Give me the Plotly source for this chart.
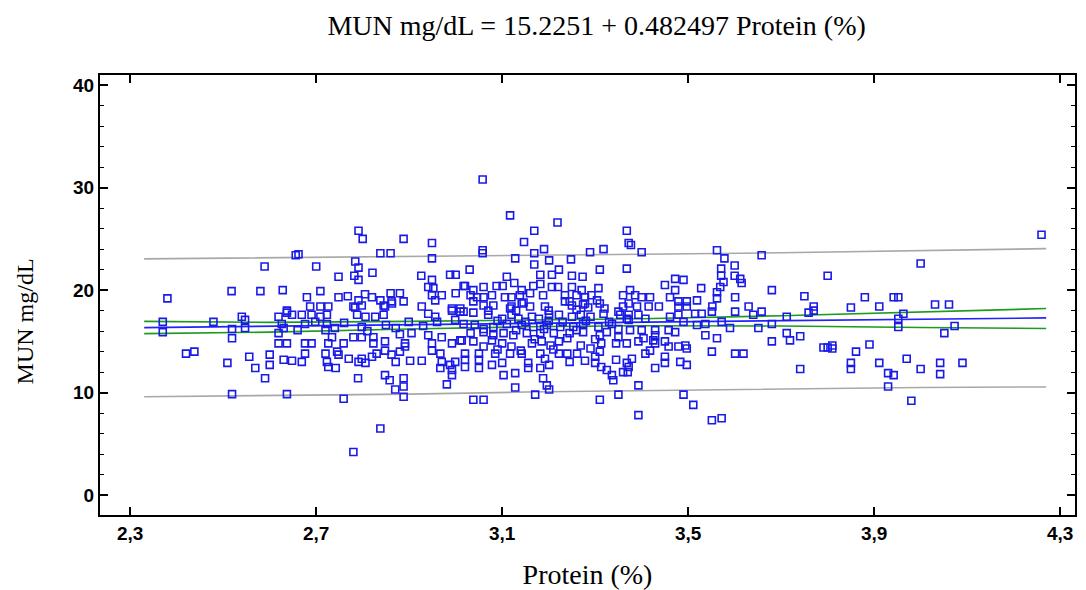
import plotly.graph_objects as go

# Scatter data (Protein %, MUN mg/dL)
protein = [
 2.656,2.589,2.518,2.58,2.628,2.38,2.637,
 2.37,2.37,2.479,2.54,2.547,2.547,2.519,2.519,2.619,2.637,2.648,2.626,2.63,2.619,2.619,2.637,2.42,2.438,2.509,2.556,2.569,2.60,2.60,2.59,2.63,2.648,2.519,2.637,
 2.791,2.80,2.888,2.949,2.662,2.838,2.86,2.949,2.70,2.784,2.791,2.821,2.748,2.782,2.791,2.926,2.949,2.988,3.0,2.709,2.941,2.952,3.017,3.0,2.68,2.748,2.768,2.805,2.82,2.86,2.88,2.791,2.838,2.862,2.888,2.949,2.956,2.97,2.687,2.709,2.726,2.78,2.798,2.848,2.927,2.992,3.01,
 2.669,2.69,2.709,2.723,2.676,2.698,2.723,2.784,2.788,2.806,2.827,2.845,2.863,2.845,2.941,2.956,2.992,3.01,2.999,2.899,2.871,2.798,2.78,2.798,2.823,2.823,2.848,2.676,2.69,2.726,2.759,2.734,2.72,2.891,2.905,2.941,2.949,2.97,2.992,3.01,2.949,2.967,2.676,2.72,2.745,2.748,2.77,2.798,2.82,2.83,2.848,2.862,2.88,2.891,2.669,2.723,2.726,2.742,2.791,2.806,2.871,2.902,2.927,2.97,2.988,2.999,2.967,2.992,2.992,2.79,2.848,2.858,2.888,2.888,2.87,2.981,2.888,2.759,2.838,2.78,
 2.76,2.85,2.93,2.96,2.66,2.74,2.81,2.88,
 3.058,3.117,3.219,3.169,3.368,3.147,3.058,3.058,3.169,3.19,3.289,3.318,3.372,3.128,3.201,3.248,3.03,3.169,3.182,3.207,3.222,3.25,3.273,3.31,3.368,3.11,3.126,3.02,3.038,3.06,3.088,3.101,3.142,3.167,3.182,3.207,3.22,3.25,3.271,3.307,3.032,3.046,3.06,3.078,3.106,3.12,3.138,3.16,3.188,3.235,3.26,3.278,3.292,3.304,3.36,3.038,3.06,3.081,3.12,3.142,3.16,3.192,3.235,3.25,3.278,3.31,3.36,
 3.117,3.146,3.245,3.274,3.285,3.017,3.038,3.07,3.1,3.12,3.135,3.164,3.179,3.201,3.222,3.25,3.269,3.29,3.318,3.354,3.368,3.017,3.041,3.081,3.11,3.142,3.167,3.196,3.225,3.253,3.274,3.307,3.336,3.032,3.06,3.081,3.103,3.124,3.153,3.182,3.211,3.245,3.274,3.31,3.325,3.013,3.038,3.06,3.078,3.1,3.12,3.164,3.185,3.204,3.222,3.269,3.29,3.313,3.345,3.368,3.02,3.05,3.085,3.117,3.142,3.182,3.222,3.24,3.261,3.31,3.02,3.05,3.078,3.1,3.156,3.192,3.245,3.278,3.3,3.345,3.368,3.02,3.05,3.156,3.182,3.201,3.313,3.325,3.36,3.336,3.103,3.128,3.188,3.339,3.196,3.128,3.201,3.171,3.35,3.038,3.06,3.31,
 3.09,3.15,3.2,3.23,3.28,3.33,3.06,3.13,3.19,3.26,3.35,3.09,3.14,3.21,3.3,3.17,3.24,3.3,3.35,3.07,3.13,3.2,3.26,3.32,3.35,
 3.377,3.4,3.562,3.658,3.578,3.6,3.571,3.472,3.49,3.571,3.6,3.612,3.45,3.528,3.576,3.615,3.472,3.569,3.68,3.375,3.386,3.4,3.418,3.461,3.562,3.562,3.601,3.519,3.479,3.497,3.479,3.497,3.39,3.415,3.437,3.552,3.63,
 3.372,3.372,3.393,3.408,3.461,3.479,3.515,3.529,3.551,3.601,3.64,3.658,3.372,3.49,3.519,3.537,3.572,3.59,3.651,3.68,3.712,3.375,3.4,3.429,3.458,3.472,3.429,3.404,3.425,3.537,3.562,3.45,3.393,3.429,3.458,3.479,3.494,3.497,3.68,3.712,3.719,3.408,3.418,3.551,3.601,3.619,3.379,3.45,3.45,3.483,3.497,3.372,3.429,3.37,3.393,3.49,3.511,3.393,3.551,3.572,
 4.26,4.0,3.80,3.75,3.88,3.942,3.952,3.77,3.85,3.911,4.031,4.061,3.77,3.759,3.963,3.952,3.952,4.073,4.051,3.741,3.791,3.80,3.81,3.81,3.861,3.89,3.97,3.85,3.85,3.911,3.93,3.942,4.0,4.042,4.042,4.09,3.741,3.93,3.98,
]
mun = [
 23.4,22.3,19.9,19.9,20.0,19.2,18.0,
 16.9,15.9,16.9,17.4,17.1,16.3,16.2,15.3,17.4,17.8,17.6,16.7,16.3,15.8,14.8,14.8,13.8,14.0,12.9,13.5,12.4,13.7,12.7,11.4,13.2,13.1,9.85,9.85,
 25.8,25.0,25.0,24.6,23.5,23.6,23.6,23.1,22.3,22.8,22.2,21.7,21.3,21.4,21.0,21.4,21.0,21.5,21.5,19.9,20.3,20.2,20.4,19.7,19.3,19.3,19.4,19.6,19.3,19.7,19.7,19.0,19.0,18.9,18.9,19.5,19.0,19.5,18.4,18.4,18.4,18.4,18.5,18.4,18.4,18.2,18.2,
 17.6,17.6,17.4,17.6,16.7,16.9,16.7,18.3,17.6,17.4,17.4,18.5,18.7,17.6,17.7,17.4,18.0,17.9,17.1,16.9,16.3,16.4,15.4,15.4,15.4,14.8,15.0,14.8,14.8,14.8,14.8,15.4,16.1,14.8,15.8,15.6,14.8,15.4,14.8,15.1,14.1,13.8,13.8,13.8,14.0,13.7,13.3,13.3,13.5,13.8,14.1,13.7,14.0,14.5,13.0,13.0,12.5,12.4,13.0,12.9,13.0,13.1,13.1,13.0,12.7,13.0,12.4,12.2,11.7,11.4,11.7,11.2,11.4,10.6,10.3,10.8,9.6,9.4,6.5,4.2,
 16.8,16.6,16.5,16.9,16.1,16.3,16.0,15.7,
 30.8,27.3,26.6,25.8,25.8,24.7,23.9,23.6,23.6,24.0,23.7,24.0,24.6,23.1,22.9,23.0,22.0,22.5,21.5,21.5,22.0,21.4,21.3,22.0,22.1,21.3,20.7,20.4,20.0,20.3,20.4,20.4,20.0,20.4,20.6,20.3,20.3,20.3,20.0,20.2,19.5,19.3,19.3,19.5,19.3,19.3,19.5,19.7,19.5,19.5,19.5,19.3,19.5,19.0,19.5,18.9,18.5,18.5,18.4,18.7,18.4,18.4,18.9,18.5,18.7,18.7,18.4,
 18.2,18.8,18.9,18.6,18.3,17.9,17.8,17.6,17.2,17.6,17.2,17.4,17.2,17.6,17.6,17.4,17.6,17.4,17.7,17.6,17.2,16.7,16.6,16.4,16.7,16.6,16.4,16.6,16.4,16.4,16.7,16.4,16.7,15.8,15.9,15.6,15.8,15.6,15.8,15.8,15.8,15.8,15.9,15.6,15.9,15.1,15.0,14.5,15.1,14.8,14.5,14.8,15.0,14.6,15.0,14.6,14.3,14.8,14.8,14.8,13.8,13.8,13.8,13.8,13.8,13.8,13.8,13.8,13.8,14.0,13.2,13.2,12.7,12.9,12.9,13.3,13.0,13.1,12.9,13.2,12.9,12.5,12.4,12.4,12.4,12.7,12.5,12.2,12.0,11.7,11.7,11.9,11.4,11.2,10.7,10.5,10.3,9.8,9.8,9.3,9.3,9.3,
 17.0,16.9,17.0,16.9,17.0,16.9,16.2,16.1,16.2,16.1,16.2,14.2,14.1,14.2,13.5,15.2,15.3,15.2,15.4,18.0,18.0,18.0,18.1,18.2,17.9,
 24.4,23.7,23.9,23.4,23.1,22.4,22.1,21.1,21.0,21.4,21.4,21.1,20.5,20.2,20.8,20.7,20.0,20.3,20.0,20.0,19.5,19.3,19.3,19.3,19.8,19.2,19.3,19.0,18.9,18.9,18.4,18.4,18.4,18.4,18.4,18.4,18.4,
 18.7,17.6,17.6,17.2,17.4,17.6,17.7,17.7,17.9,17.9,17.6,17.9,17.1,16.9,16.6,16.7,16.9,16.3,16.3,16.7,17.4,16.1,16.1,16.1,16.1,15.9,15.6,15.3,15.1,15.6,15.3,15.0,15.0,14.8,14.5,14.5,14.6,14.3,15.0,15.8,15.1,13.8,14.1,14.0,13.8,13.8,13.3,13.5,12.9,13.0,12.7,12.5,12.4,12.0,10.7,9.8,8.8,7.8,7.3,7.5,
 25.4,22.6,21.4,19.4,19.3,19.3,19.3,18.4,18.3,18.4,18.6,18.6,18.0,17.8,17.7,17.2,16.4,16.5,15.8,15.5,14.4,14.4,14.6,14.3,14.0,14.7,13.3,12.9,12.3,12.9,11.9,11.7,12.3,12.9,11.8,12.9,12.3,10.6,9.2,
]

# Regression coefficients (from the title)
intercept = 15.2251
slope = 0.482497

# Band curves
band_x = [2.33, 2.6, 2.9, 3.15, 3.4, 3.7, 4.0, 4.27]
conf_lo = [15.75, 15.9, 16.2, 16.42, 16.52, 16.5, 16.35, 16.25]
conf_hi = [16.95, 16.85, 16.95, 17.05, 17.2, 17.5, 17.85, 18.2]
pred_lo = [9.6, 9.7, 9.85, 10.05, 10.2, 10.35, 10.5, 10.55]
pred_hi = [23.05, 23.15, 23.3, 23.4, 23.5, 23.65, 23.85, 24.05]

fit_x = [band_x[0], band_x[-1]]
fit_y = [intercept + slope * v for v in fit_x]

fig = go.Figure()
grey = "#a8a8a8"
green = "#1e9a1e"
for yy, col in [(pred_lo, grey), (pred_hi, grey), (conf_lo, green), (conf_hi, green)]:
    fig.add_trace(go.Scatter(x=band_x, y=yy, mode="lines",
                             line=dict(color=col, width=1.6), hoverinfo="skip"))
fig.add_trace(go.Scatter(x=fit_x, y=fit_y, mode="lines",
                         line=dict(color="#2222ff", width=1.7)))
fig.add_trace(go.Scatter(x=protein, y=mun, mode="markers",
                         marker=dict(symbol="square-open", size=7, color="#1a1ae6",
                                     line=dict(width=1.6, color="#1a1ae6"))))

tickfont = dict(family="Liberation Sans Narrow, Arial Narrow, Liberation Sans", size=19,
                color="black", weight="bold")
serif = "Liberation Serif, Times New Roman, serif"

fig.update_layout(
    width=1078, height=582,
    margin=dict(l=92, r=11, t=67, b=75),
    paper_bgcolor="white", plot_bgcolor="white",
    showlegend=False,
    separators=",.",
    title=dict(text="MUN mg/dL = 15.2251 + 0.482497 Protein (%)", x=0.546, xanchor="center",
               y=0.971, yanchor="middle",
               font=dict(family=serif, size=28, color="black")),
    xaxis=dict(range=[2.235, 4.332], tick0=2.3, dtick=0.4, tickformat=".1f", automargin=False,
               showgrid=False, zeroline=False, showline=True, linecolor="black", linewidth=2,
               mirror="allticks", ticks="inside", ticklen=8, tickwidth=1.5, tickcolor="black",
               tickfont=tickfont,
               title=dict(text="Protein (%)", font=dict(family=serif, size=28, color="black"),
                          standoff=22)),
    yaxis=dict(range=[-1.95, 41], tick0=0, dtick=10, automargin=False,
               showgrid=False, zeroline=False, showline=True, linecolor="black", linewidth=2,
               mirror="allticks", ticks="inside", ticklen=8, tickwidth=1.5, tickcolor="black",
               minor=dict(ticks="inside", dtick=2, ticklen=4, tickwidth=1, tickcolor="black"),
               tickfont=tickfont),
    annotations=[dict(text="MUN mg/dL", textangle=-90, xref="paper", yref="paper",
                      x=0, y=0.44, xanchor="center", yanchor="middle", xshift=-75,
                      showarrow=False, font=dict(family=serif, size=24, color="black"))],
)

fig.write_html("out.html")
